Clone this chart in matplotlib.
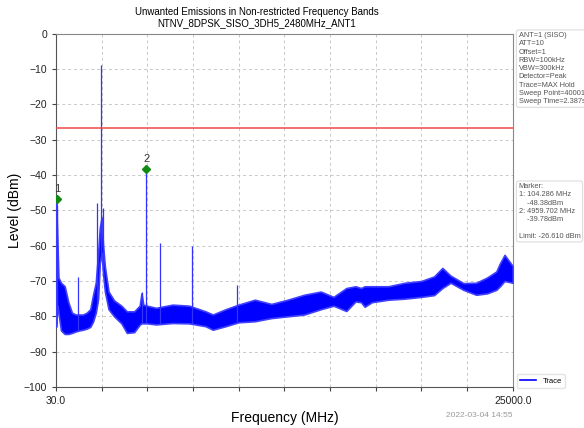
import numpy as np
import matplotlib
matplotlib.use('Agg')
import matplotlib.pyplot as plt

plt.rcParams['font.family'] = ['Liberation Sans', 'DejaVu Sans']

# noise floor envelope (MHz, dBm)
env_freq = [30, 60, 110, 160, 300, 500, 700, 900, 1100, 1300, 1500, 1700, 1900, 2050,
            2200, 2330, 2420, 2520, 2600, 2700, 2900, 3200, 3600, 3900, 4300, 4600, 4700,
            4800, 5000, 5500, 6400, 7300, 8200, 8600, 9300, 10000, 10900, 11800, 12700,
            13600, 14500, 15200, 15900, 16400, 16700, 16900, 17300, 18200, 19100, 20000,
            20700, 21150, 21600, 22300, 23000, 23600, 24100, 24300, 24550, 25000]
env_top = [-47, -52, -60, -69, -70.5, -71.5, -76, -79, -79.5, -79.5, -79.5, -79, -78,
           -74, -70.5, -62, -55, -52, -60, -66, -73, -75.5, -77, -78.6, -78.6, -77, -73.5,
           -76.7, -77, -77.6, -76.7, -77, -78.6, -79.5, -78, -76.7, -75.3, -76.5, -75.3,
           -73.9, -73, -74.5, -72, -71.5, -72, -71.5, -71.5, -71.5, -70.5, -70, -68.7,
           -66.3, -68.5, -70.6, -70.5, -69, -67.3, -65, -62.6, -65.8]
env_low = [-83, -80, -77, -79, -84, -85, -85, -84.7, -84.3, -84, -83.8, -83.5, -83,
           -81.5, -79, -75, -65, -62, -68, -73, -78, -80, -82, -84.7, -84.5, -82.4, -82,
           -82, -82, -82.3, -81.9, -82, -82.8, -83.8, -82.8, -81.7, -81.4, -80.5, -80,
           -79.5, -78, -77, -78.5, -75.8, -76, -77.3, -76, -75.3, -75, -74.5, -74, -72,
           -70.5, -72.5, -73.9, -73.5, -72.5, -71.5, -70, -70.5]

# narrow spurs
spur_freq = [60, 104, 1215, 2287, 2480, 2582, 4715, 4960, 5736, 7450, 9929]
spur_top = [-50, -48.4, -68.9, -47.8, -8.8, -49.2, -73, -38.3, -59.2, -60.2, -71.0]

# markers
mk_freq = [104.286, 4959.702]
mk_level = [-46.7, -38.3]
mk_label = ['1', '2']

limit = -26.61

fig = plt.figure(figsize=(5.84, 4.28), dpi=100)
ax = fig.add_axes([0.096, 0.096, 0.782, 0.825])

ax.fill_between(env_freq, env_low, env_top, color='#0000ff', linewidth=1.2,
                edgecolor='#4040ff', zorder=3)
base = np.interp(spur_freq, env_freq, env_low)
ax.vlines(spur_freq, base, spur_top, color='#3333ff', linewidth=0.9, zorder=3)
ax.plot([], [], color='#0000ff', linewidth=1.2, label='Trace')

ax.axhline(limit, color='#f04848', linewidth=1.1, zorder=4)

ax.plot(mk_freq, mk_level, 'D', color='#108a10', markersize=4.5, zorder=5)
for f, l, t in zip(mk_freq, mk_level, mk_label):
    ax.text(f, l + 1.4, t, ha='center', va='bottom', fontsize=8, color='#333333', zorder=5)

ax.set_xlim(30, 25000)
ax.set_ylim(-100, 0)
ax.set_yticks(np.arange(-100, 1, 10))
xt = np.linspace(30, 25000, 11)
ax.set_xticks(xt)
ax.set_xticklabels(['30.0'] + [''] * 9 + ['25000.0'])
ax.tick_params(labelsize=7.5, length=3, color='#444444', labelcolor='#222222')
ax.grid(True, linestyle=(0, (3, 3)), color='#c8c8c8', linewidth=0.7)
for s in ax.spines.values():
    s.set_color('#888888')
ax.spines['left'].set_color('#555555')
ax.spines['bottom'].set_color('#555555')

ax.set_xlabel('Frequency (MHz)', fontsize=10, labelpad=4)
ax.set_ylabel('Level (dBm)', fontsize=10, labelpad=1)

fig.text(0.44, 0.972, 'Unwanted Emissions in Non-restricted Frequency Bands',
         ha='center', va='center', fontsize=7)
fig.text(0.44, 0.945, 'NTNV_8DPSK_SISO_3DH5_2480MHz_ANT1',
         ha='center', va='center', fontsize=7)

box = dict(boxstyle='round,pad=0.3', facecolor='white', edgecolor='#dddddd', linewidth=0.8)
info = ('ANT=1 (SISO)\nATT=10\nOffset=1\nRBW=100kHz\nVBW=300kHz\nDetector=Peak\n'
        'Trace=MAX Hold\nSweep Point=40001\nSweep Time=2.387s')
fig.text(0.888, 0.925, info, ha='left', va='top', fontsize=5.3, color='#555555',
         linespacing=1.25, bbox=box)
marker_txt = ('Marker:\n1: 104.286 MHz\n    -48.38dBm\n2: 4959.702 MHz\n    -39.78dBm\n\n'
              'Limit: -26.610 dBm')
fig.text(0.888, 0.572, marker_txt, ha='left', va='top', fontsize=5.3, color='#555555',
         linespacing=1.25, bbox=box)

fig.legend(loc='lower left', bbox_to_anchor=(0.878, 0.085), fontsize=5.5,
           handlelength=2.2, frameon=True, edgecolor='#dddddd', fancybox=True)

fig.text(0.82, 0.03, '2022-03-04 14:55', ha='center', va='center', fontsize=6,
         color='#999999')

fig.savefig('out.png', dpi=100)
